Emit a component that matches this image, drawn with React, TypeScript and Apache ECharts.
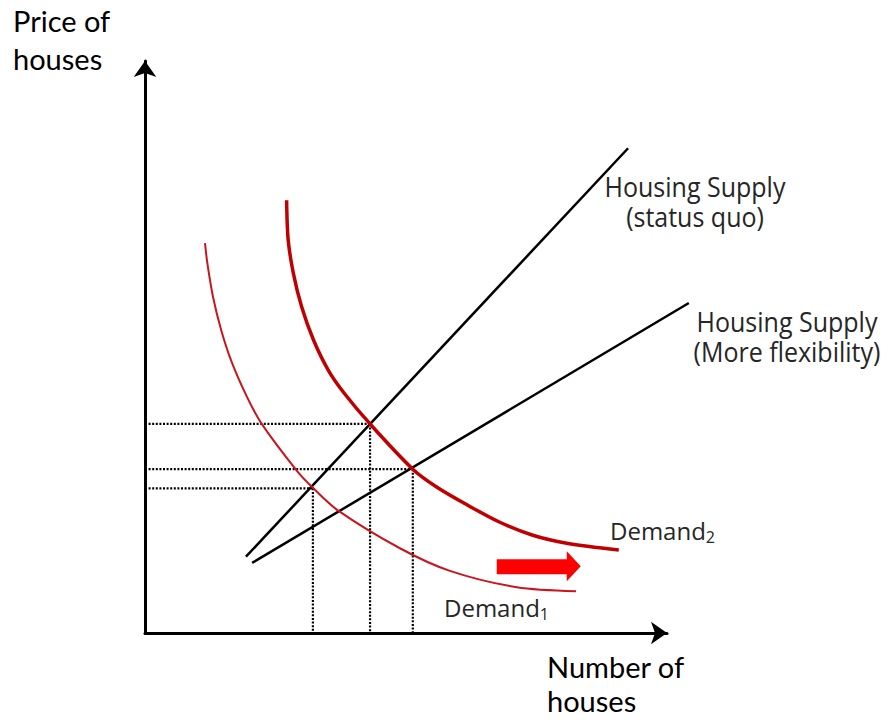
import React, { useEffect, useRef } from "react";
import * as echarts from "echarts";

// Quantity (x) and price (y) in arbitrary chart units, 0..100 on each visible axis
const supplyStatusQuo: [number, number][] = [
  [19.6, 13.5],
  [93.8, 85.8],
];
const supplyFlexible: [number, number][] = [
  [20.8, 12.4],
  [105.6, 58.4],
];
const demand1: [number, number][] = [
  [11.65, 69.0], [12.1, 65.5], [13.2, 59.5], [14.8, 53.6], [16.9, 47.8],
  [19.8, 41.8], [22.6, 37.1], [29.5, 28.7], [32.6, 25.7], [37.3, 21.8],
  [49.5, 15.0], [59.2, 11.0], [72.2, 8.1], [83.7, 7.4],
];
const demand2: [number, number][] = [
  [27.5, 76.6], [27.8, 69.6], [28.8, 63.7], [30.4, 57.8], [32.7, 51.9],
  [35.6, 46.5], [38.8, 42.3], [43.7, 37.0], [52.0, 29.0], [56.7, 25.8],
  [62.5, 22.7], [68.9, 19.6], [75.3, 17.3], [81.9, 15.9], [92.0, 14.7],
];
// Equilibria: [quantity, price]
const equilibria: [number, number][] = [
  [32.6, 25.6],
  [43.7, 37.0],
  [52.0, 29.0],
];
// Shift arrow (data units): shaft start x, head base x, tip x, center y
const shiftArrow = { x0: 68.3, x1: 81.9, x2: 85.0, y: 11.8 };

const TXT = "#262626";
const LABEL_FONT = '"Open Sans", "Noto Sans", sans-serif';
const AXIS_FONT = 'Lato, "Noto Sans", sans-serif';

export default function App() {
  const ref = useRef<HTMLDivElement>(null);
  useEffect(() => {
    if (!ref.current) return;
    const chart = echarts.init(ref.current, null, { renderer: "svg" });

    const dotted = { color: "#000", width: 2.2, type: [2, 1.6] as number[] };
    const guideSeries: any[] = [];
    equilibria.forEach(([q, p], i) => {
      guideSeries.push({
        type: "line",
        name: "guideH" + i,
        data: [[0, p], [q, p]],
        symbol: "none",
        lineStyle: dotted,
        z: 1,
      });
      guideSeries.push({
        type: "line",
        name: "guideV" + i,
        data: [[q, p], [q, 0]],
        symbol: "none",
        lineStyle: dotted,
        z: 1,
      });
    });

    const hidden = {
      axisLine: { show: false },
      axisTick: { show: false },
      axisLabel: { show: false },
      splitLine: { show: false },
    };
    const shown = {
      axisLine: {
        show: true,
        symbol: ["none", "arrow"],
        symbolSize: [17, 16],
        lineStyle: { color: "#000", width: 3 },
      },
      axisTick: { show: false },
      axisLabel: { show: false },
      splitLine: { show: false },
    };

    // Grid 0 holds the data (x 0..110 so the flexible supply line fits), grid 1 draws the arrowed axes.
    chart.setOption({
      animation: false,
      grid: [
        { left: 145, top: 68, width: 566.5, height: 565 },
        { left: 145, top: 61, width: 522, height: 572 },
      ],
      xAxis: [
        { type: "value", gridIndex: 0, min: 0, max: 110, ...hidden },
        { type: "value", gridIndex: 1, min: 0, max: 100, ...shown },
      ],
      yAxis: [
        { type: "value", gridIndex: 0, min: 0, max: 100, ...hidden },
        { type: "value", gridIndex: 1, min: 0, max: 100, ...shown },
      ],
      series: [
        ...guideSeries,
        {
          type: "line",
          name: "Housing Supply (status quo)",
          data: supplyStatusQuo,
          symbol: "none",
          lineStyle: { color: "#000", width: 2.5 },
          z: 3,
        },
        {
          type: "line",
          name: "Housing Supply (More flexibility)",
          data: supplyFlexible,
          symbol: "none",
          lineStyle: { color: "#000", width: 2.5 },
          z: 3,
        },
        {
          type: "line",
          name: "Demand1",
          data: demand1,
          symbol: "none",
          smooth: 0.3,
          lineStyle: { color: "#c8161d", width: 2 },
          z: 4,
        },
        {
          type: "line",
          name: "Demand2",
          data: demand2,
          symbol: "none",
          smooth: 0.3,
          lineStyle: { color: "#c00000", width: 3.5 },
          z: 4,
        },
      ],
    });

    const p0 = chart.convertToPixel({ gridIndex: 0 }, [shiftArrow.x0, shiftArrow.y]) as number[];
    const p1 = chart.convertToPixel({ gridIndex: 0 }, [shiftArrow.x1, shiftArrow.y]) as number[];
    const p2 = chart.convertToPixel({ gridIndex: 0 }, [shiftArrow.x2, shiftArrow.y]) as number[];
    const cy = p0[1];
    const sh = 8; // half shaft thickness
    const hh = 15; // half head height
    const tipX = p2[0] - 2;

    const label = (text: string, x: number, y: number) => ({
      type: "text",
      x,
      y,
      scaleY: 1.1,
      style: {
        text,
        fill: TXT,
        fontSize: 25,
        lineHeight: 26,
        fontFamily: LABEL_FONT,
        align: "center",
        verticalAlign: "middle",
      },
    });

    const demandLabel = (n: string, x: number, y: number) => ({
      type: "text",
      x,
      y,
      style: {
        text: "{a|Demand}{s|" + n + "}",
        align: "left",
        verticalAlign: "middle",
        rich: {
          a: { fontSize: 24, fontFamily: LABEL_FONT, fill: TXT, lineHeight: 30, verticalAlign: "middle" },
          s: { fontSize: 16, fontFamily: LABEL_FONT, fill: TXT, lineHeight: 14, verticalAlign: "bottom" },
        },
      },
    });

    chart.setOption({
      graphic: [
        {
          type: "polygon",
          shape: {
            points: [
              [p0[0], cy - sh + 1],
              [p1[0], cy - sh + 1],
              [p1[0], cy - hh],
              [tipX, cy],
              [p1[0], cy + hh],
              [p1[0], cy + sh],
              [p0[0], cy + sh],
            ],
          },
          style: { fill: "#ff0000" },
          z: 10,
        },
        {
          type: "text",
          x: 13,
          y: 1,
          style: {
            text: "Price of\nhouses",
            fill: "#000",
            fontSize: 29,
            fontFamily: AXIS_FONT,
            lineHeight: 38,
            align: "left",
            verticalAlign: "top",
          },
        },
        {
          type: "text",
          x: 547,
          y: 649,
          style: {
            text: "Number of\nhouses",
            fill: "#000",
            fontSize: 29,
            fontFamily: AXIS_FONT,
            lineHeight: 34,
            align: "left",
            verticalAlign: "top",
          },
        },
        label("Housing Supply", 695, 187),
        label("(status quo)", 695, 217),
        label("Housing Supply", 787, 322),
        label("(More flexibility)", 787, 352),
        demandLabel("2", 610, 530),
        demandLabel("1", 444, 607),
      ],
    });

    return () => chart.dispose();
  }, []);

  return (
    <div
      ref={ref}
      style={{ position: "absolute", left: 0, top: 0, width: 890, height: 722, background: "#fff" }}
    />
  );
}
